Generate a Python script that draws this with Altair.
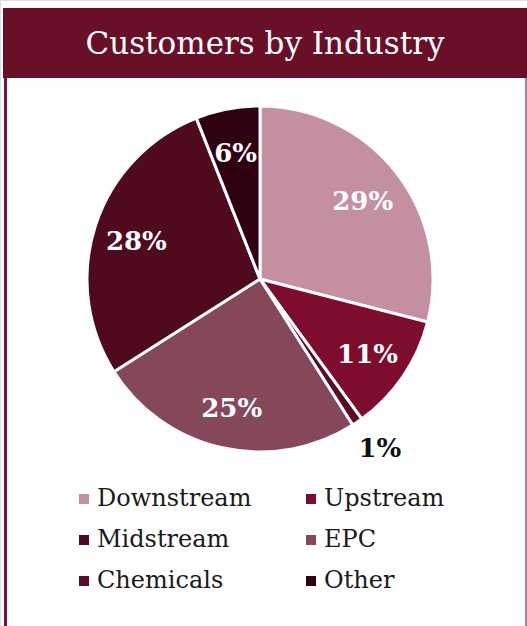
import math
import altair as alt
import pandas as pd

# Data (pie order clockwise from 12 o'clock)
categories = ["Downstream", "Upstream", "Chemicals", "EPC", "Midstream", "Other"]
shares = [29, 11, 1, 25, 28, 6]
labels = ["29%", "11%", "1%", "25%", "28%", "6%"]

legend_order = ["Downstream", "Upstream", "Midstream", "EPC", "Chemicals", "Other"]
legend_colors = ["#C4909F", "#7E0D2D", "#4F0A1D", "#844858", "#5A0C24", "#2E0012"]

title_text = "Customers by Industry"

df = pd.DataFrame({
    "industry": categories,
    "share": shares,
    "label": labels,
    "idx": list(range(len(categories))),
})

W, H = 527, 626
CX, CY = 260, 279
SERIF = "DejaVu Serif"
TOTAL = sum(shares)

pie = alt.Chart(df).mark_arc(outerRadius=173, stroke="white", strokeWidth=3).encode(
    theta=alt.Theta("share:Q", stack=True),
    order=alt.Order("idx:Q", sort="ascending"),
    x=alt.value(CX),
    y=alt.value(CY),
    color=alt.Color(
        "industry:N",
        scale=alt.Scale(domain=legend_order, range=legend_colors),
        legend=alt.Legend(
            title=None,
            orient="none",
            direction="horizontal",
            legendX=72,
            legendY=487,
            columns=2,
            columnPadding=47,
            rowPadding=17,
            symbolType="square",
            symbolSize=100,
            symbolStrokeWidth=0,
            labelFont=SERIF,
            labelFontSize=24,
            labelColor="#1a1a1a",
            labelOffset=1,
            padding=0,
        ),
    ),
)

lab_base = alt.Chart(df).transform_window(
    cum="sum(share)", sort=[alt.SortField("idx", order="ascending")]
).transform_calculate(mid="datum.cum - datum.share / 2")

theta_mid = alt.Theta(
    "mid:Q", stack=None,
    scale=alt.Scale(domain=[0, TOTAL], range=[0, 2 * math.pi]),
)

inner_labels = lab_base.transform_filter(alt.datum.share > 2).mark_text(
    radius=130, dy=3, font=SERIF, fontSize=26, fontWeight="bold", color="white"
).encode(theta=theta_mid, x=alt.value(CX), y=alt.value(CY), text="label:N")

outer_labels = lab_base.transform_filter(alt.datum.share <= 2).mark_text(
    radius=206, dx=4, font=SERIF, fontSize=26, fontWeight="bold", color="#111111"
).encode(theta=theta_mid, x=alt.value(CX), y=alt.value(CY), text="label:N")

band_df = pd.DataFrame({"t": [title_text]})
band = alt.Chart(band_df).mark_rect(color="#6A0F28").encode(
    x=alt.value(3), x2=alt.value(527), y=alt.value(8), y2=alt.value(78)
)
title = alt.Chart(band_df).mark_text(
    font=SERIF, fontSize=31, color="white", baseline="middle", align="center"
).encode(x=alt.value(265), y=alt.value(45), text="t:N")

left_border = alt.Chart(band_df).mark_rule(color="#7A1536", strokeWidth=3).encode(
    x=alt.value(5.5), y=alt.value(78), y2=alt.value(626)
)
right_border = alt.Chart(band_df).mark_rule(color="#A4546F", strokeWidth=1.5).encode(
    x=alt.value(526), y=alt.value(78), y2=alt.value(626)
)

chart = alt.layer(
    band, title, left_border, right_border, pie, inner_labels, outer_labels
).resolve_scale(theta="independent").properties(
    width=W, height=H, padding=0, autosize=alt.AutoSizeParams(type="none")
).configure_view(stroke=None).configure(background="white")

chart.save("out.html", embed_options={"renderer": "svg", "actions": False})
